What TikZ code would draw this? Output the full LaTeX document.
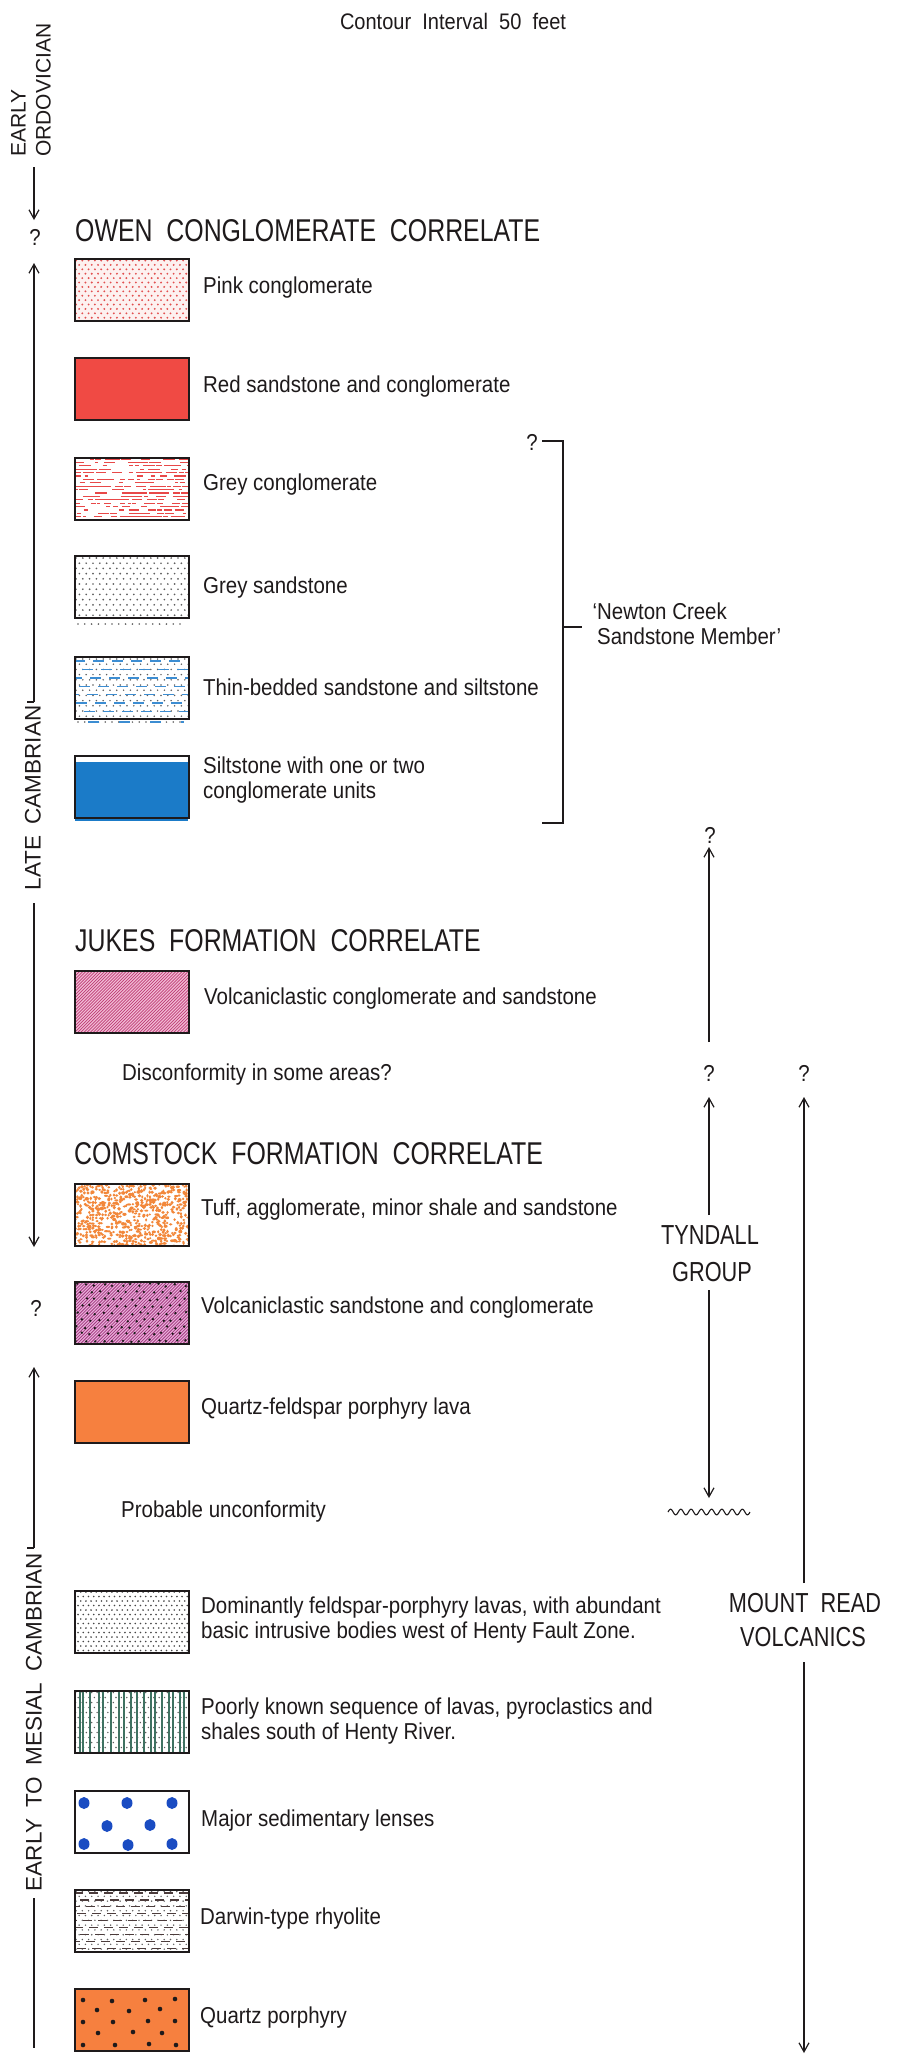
\documentclass[tikz,border=0pt]{standalone}
\usepackage{fontspec}
\setmainfont{Liberation Sans}
\newfontfamily\bodyf{Liberation Sans}[FakeStretch=0.89]
\newfontfamily\headf{Liberation Sans}[FakeStretch=0.79]
\usetikzlibrary{arrows.meta}
\definecolor{ink}{HTML}{1E1A1B}
\definecolor{redfill}{HTML}{F04A44}
\definecolor{orangefill}{HTML}{F6803F}
\definecolor{bluefill}{HTML}{1B7BC8}
\definecolor{pinkbg}{HTML}{FDF1F0}
\definecolor{pinkdot}{HTML}{E25050}
\definecolor{dashred}{HTML}{E84848}
\definecolor{dashblue}{HTML}{3C8DD2}
\definecolor{dotgrey}{HTML}{5E5E5E}
\definecolor{jukespink}{HTML}{F2BCD6}
\definecolor{jukesline}{HTML}{BE3C74}
\definecolor{vsfill}{HTML}{EBB0DC}
\definecolor{vsline}{HTML}{A2397F}
\definecolor{tufforange}{HTML}{F2873A}
\definecolor{lensblue}{HTML}{1A4CC2}
\definecolor{greenline}{HTML}{3F7262}
\definecolor{darkdash}{HTML}{4C3C3C}
\tikzset{
  legbox/.style={draw=ink, line width=1.9pt, minimum width=114pt, minimum height=62pt, anchor=north west, inner sep=0pt},
  body/.style={font=\bodyf\fontsize{23}{25}\selectfont, inner sep=0pt, anchor=west, align=left, text=ink},
  head/.style={font=\headf\fontsize{31.5}{36}\selectfont, inner sep=0pt, anchor=west, text=ink},
  grp/.style={font=\headf\fontsize{27.5}{32}\selectfont, inner sep=0pt, text=ink},
  period/.style={font=\fontsize{22.5}{25}\selectfont, rotate=90, inner sep=0pt, text=ink},
  qm/.style={font=\bodyf\fontsize{23}{25}\selectfont, inner sep=0pt, text=ink},
  conn/.style={draw=ink, line width=1.2pt},
  arr/.style={conn, -{Straight Barb[length=9pt,width=10pt,line width=1.2pt]}},
}
\begin{document}
\begin{tikzpicture}[x=1pt,y=-1pt]
\useasboundingbox[fill=white] (0,0) rectangle (905,2069);
\pgfmathsetseed{11}

% ---------- title ----------
\node[body, anchor=center, font=\bodyf\fontsize{22.5}{25}\selectfont] (title) at (453,21) {Contour\ \ Interval\ \ 50\ \ feet};

% ---------- period labels (left) ----------
\node[period, align=left, font=\fontsize{21}{25}\selectfont, anchor=west] (eo) at (31,157) {EARLY\\ORDOVICIAN};
\node[period] (late) at (33,798) {LATE\hspace{0.5em}CAMBRIAN};
\node[period] (emc) at (34,1722) {EARLY\hspace{0.5em}TO\hspace{0.5em}MESIAL\hspace{0.5em}CAMBRIAN};
\node[qm] (q1) at (35,237) {?};
\node[qm] (q6) at (36,1308) {?};

\coordinate (l1a) at (34,167); \coordinate (l1b) at (34,220);
\coordinate (l2a) at (34,263); \coordinate (l2b) at (34,702);
\coordinate (l3a) at (34,903); \coordinate (l3b) at (34,1247);
\coordinate (l4a) at (34,1367); \coordinate (l4b) at (34,1548);
\coordinate (l5a) at (34,1898); \coordinate (l5b) at (34,2048);
\draw[arr] (l1a) -- (l1b);
\draw[arr] (l2b) -- (l2a);
\draw[conn] (l2b) -- ++(-7,0);
\draw[arr] (l3a) -- (l3b);
\draw[arr] (l4b) -- (l4a);
\draw[conn] (l4b) -- ++(-7,0);
\draw[conn] (l5a) -- (l5b);

% ---------- headings ----------
\node[head] (owen) at (75,231) {OWEN\ \ CONGLOMERATE\ \ CORRELATE};
\node[head] (jukes) at (75,941) {JUKES\ \ FORMATION\ \ CORRELATE};
\node[head] (comstock) at (74,1154) {COMSTOCK\ \ FORMATION\ \ CORRELATE};

% ---------- box 1 : pink conglomerate ----------
\begin{scope}[shift={(74,258)}]
  \fill[pinkbg] (0,0) rectangle (114,62);
  \clip (0,0) rectangle (114,62);
  \foreach \j in {0,...,14}{\foreach \i in {0,...,18}{
    \fill[pinkdot] ({\i*6.3+mod(\j,2)*3.15+2},{\j*4.4+2.5}) circle (1.05pt);}}
\end{scope}
\node[legbox] (b1) at (74,258) {};
\node[body] (t1) at (203,288) {Pink conglomerate};

% ---------- box 2 : red ----------
\node[legbox, fill=redfill] (b2) at (74,357) {};
\node[body] (t2) at (203,387) {Red sandstone and conglomerate};

% ---------- box 3 : grey conglomerate ----------
\begin{scope}[shift={(74,457)}]
  \clip (0,0) rectangle (114,62);
  \foreach \j in {0,...,18}{\foreach \i in {0,...,15}{
    \pgfmathtruncatemacro\okk{rnd<0.62}
    \ifnum\okk=1
      \pgfmathsetmacro\xaa{\i*7.6+rnd*6-3}
      \pgfmathsetmacro\lll{3+rnd*9}
      \draw[dashred, line width=1.3pt] (\xaa,{\j*3.4+2}) -- ++(\lll,0);
    \fi}}
\end{scope}
\node[legbox] (b3) at (74,457) {};
\node[body] (t3) at (203,485) {Grey conglomerate};

% ---------- box 4 : grey sandstone ----------
\begin{scope}[shift={(74,555)}]
  \begin{scope}
    \clip (0,0) rectangle (114,62);
    \foreach \j in {0,...,12}{\foreach \i in {0,...,17}{
      \fill[dotgrey] ({\i*6.8+mod(\j,2)*3.4+2},{\j*5.2+3}) circle (0.95pt);}}
  \end{scope}
  \foreach \i in {0,...,15}{\fill[dotgrey] ({\i*6.8+4},69) circle (0.9pt);}
\end{scope}
\node[legbox] (b4) at (74,555) {};
\node[body] (t4) at (203,588) {Grey sandstone};

% ---------- box 5 : thin-bedded ----------
\begin{scope}[shift={(74,656)}]
  \begin{scope}
    \clip (0,0) rectangle (114,62);
    \foreach \j in {0,...,12}{\foreach \i in {0,...,17}{
      \fill[dotgrey] ({\i*6.8+mod(\j,2)*3.4+2},{\j*5.2+3}) circle (0.85pt);}}
    \foreach \j in {0,...,7}{
      \pgfmathsetmacro\phh{mod(\j*11,19)}
      \draw[dashblue, line width=1.4pt, dash pattern=on 11pt off 8pt, dash phase=\phh pt] (0,{\j*8.4+5}) -- (114,{\j*8.4+5});}
  \end{scope}
  \foreach \i in {0,...,15}{\fill[dotgrey] ({\i*6.8+4},66) circle (0.85pt);}
  \draw[dashblue, line width=1.3pt, dash pattern=on 11pt off 20pt] (14,66) -- (110,66);
\end{scope}
\node[legbox] (b5) at (74,656) {};
\node[body] (t5) at (203,687) {Thin-bedded sandstone and siltstone};

% ---------- box 6 : siltstone ----------
\begin{scope}[shift={(74,755)}]
  \fill[bluefill] (0,6.5) rectangle (114,62);
  \fill[bluefill] (1,62) rectangle (114,66);
\end{scope}
\node[legbox] (b6) at (74,755) {};
\node[body] (t6) at (203,780) {Siltstone with one or two\\conglomerate units};

% ---------- bracket ----------
\node[qm] (q2) at (532,442) {?};
\coordinate (br1) at (542,441); \coordinate (br2) at (563,441);
\coordinate (br3) at (563,823); \coordinate (br4) at (542,823);
\coordinate (brm) at (563,627); \coordinate (brt) at (582,627);
\draw[conn] (br1) -- (br2) -- (br3) -- (br4);
\draw[conn] (brm) -- (brt);
\node[body] (newton) at (597,624) {\llap{‘}Newton Creek\\Sandstone Member’};

% ---------- box 7 : Jukes ----------
\begin{scope}[shift={(74,970)}]
  \fill[jukespink] (0,0) rectangle (114,62);
  \clip (0,0) rectangle (114,62);
  \foreach \k in {-22,...,38}{\draw[jukesline, line width=0.7pt] ({\k*3.1},63) -- ++(66,-66);}
\end{scope}
\node[legbox] (b7) at (74,970) {};
\node[body] (t7) at (204,999) {Volcaniclastic conglomerate and sandstone};
\node[body] (disc) at (122,1075) {Disconformity in some areas?};

% ---------- box 8 : tuff ----------
\begin{scope}[shift={(74,1183)}]
  \clip (0,0) rectangle (114,62);
  \foreach \j in {0,...,21}{\foreach \i in {0,...,38}{
    \pgfmathtruncatemacro\okk{rnd<0.68}
    \ifnum\okk=1
      \pgfmathsetmacro\pxx{\i*3+rnd*2.5}
      \pgfmathsetmacro\pyy{\j*3+rnd*2.5}
      \pgfmathsetmacro\raa{1.1+rnd*1.1}
      \pgfmathsetmacro\rbb{1.0+rnd*1.0}
      \fill[tufforange] (\pxx,\pyy) ellipse [x radius=\raa pt, y radius=\rbb pt];
    \fi}}
\end{scope}
\node[legbox] (b8) at (74,1183) {};
\node[body] (t8) at (201,1210) {Tuff, agglomerate, minor shale and sandstone};

% ---------- box 9 : volcaniclastic sandstone ----------
\begin{scope}[shift={(74,1281)}]
  \fill[vsfill] (0,0) rectangle (114,62);
  \clip (0,0) rectangle (114,62);
  \foreach \k in {-22,...,38}{\draw[vsline, line width=0.8pt] ({\k*3.1},63) -- ++(66,-66);}
  \foreach \j in {0,...,8}{\foreach \i in {0,...,12}{
    \pgfmathsetmacro\pxx{\i*9+mod(\j,2)*4.5+3+rnd*3-1.5}
    \pgfmathsetmacro\pyy{\j*7+4+rnd*3-1.5}
    \fill[ink] (\pxx,\pyy) circle (1.3pt);}}
\end{scope}
\node[legbox] (b9) at (74,1281) {};
\node[body] (t9) at (201,1308) {Volcaniclastic sandstone and conglomerate};

% ---------- box 10 : quartz-feldspar porphyry lava ----------
\node[legbox, fill=orangefill] (b10) at (74,1380) {};
\node[body] (t10) at (201,1409) {Quartz-feldspar porphyry lava};
\node[body] (unconf) at (121,1512) {Probable unconformity};

% ---------- box 11 : dominantly feldspar-porphyry ----------
\begin{scope}[shift={(74,1590)}]
  \clip (0,0) rectangle (114,62);
  \foreach \j in {0,...,14}{\foreach \i in {0,...,23}{
    \fill[black!72] ({\i*5.2+mod(\j,2)*2.6+1.5},{\j*4.5+2}) circle (0.9pt);}}
\end{scope}
\node[legbox] (b11) at (74,1590) {};
\node[body] (t11) at (201,1620) {Dominantly feldspar-porphyry lavas, with abundant\\basic intrusive bodies west of Henty Fault Zone.};

% ---------- box 12 : poorly known ----------
\begin{scope}[shift={(74,1690)}]
  \clip (0,0) rectangle (114,62);
  \foreach \j in {0,...,12}{\foreach \i in {0,...,21}{
    \fill[dotgrey] ({\i*5.4+mod(\j,2)*2.7+1.5},{\j*5+2.5}) circle (0.8pt);}}
  \foreach \xx in {6,9,16,25,29,37,45,50,57,63,70,77,81,88,95,99,106,110}{
    \draw[greenline, line width=1.2pt] (\xx,0) -- (\xx,62);}
\end{scope}
\node[legbox] (b12) at (74,1690) {};
\node[body] (t12) at (201,1721) {Poorly known sequence of lavas, pyroclastics and\\shales south of Henty River.};

% ---------- box 13 : major sedimentary lenses ----------
\begin{scope}[shift={(74,1790)}]
  \foreach \pxx/\pyy in {10/13,53/13,98/13,33/36,76/35,10/54,54/55,98/54}{
    \fill[lensblue] (\pxx,\pyy) ellipse [x radius=5.5pt, y radius=6pt];}
\end{scope}
\node[legbox] (b13) at (74,1790) {};
\node[body] (t13) at (201,1821) {Major sedimentary lenses};

% ---------- box 14 : Darwin-type rhyolite ----------
\begin{scope}[shift={(74,1889)}]
  \clip (0,0) rectangle (114,62);
  \foreach \j in {0,...,13}{\foreach \i in {0,...,18}{
    \fill[dotgrey] ({\i*6.3+mod(\j,2)*3.15+2},{\j*4.8+2.5}) circle (0.8pt);}}
  \foreach \j in {0,...,8}{
    \pgfmathsetmacro\phh{mod(\j*9,15)}
    \draw[darkdash, line width=1.2pt, dash pattern=on 9pt off 6pt, dash phase=\phh pt] (0,{\j*6.9+4}) -- (114,{\j*6.9+4});}
\end{scope}
\node[legbox] (b14) at (74,1889) {};
\node[body] (t14) at (200,1919) {Darwin-type rhyolite};

% ---------- box 15 : quartz porphyry ----------
\begin{scope}[shift={(74,1988)}]
  \fill[orangefill] (0,0) rectangle (114,62);
  \foreach \pxx/\pyy in {9/12,38/13,71/12,101/11,23/22,55/23,86/21,9/34,39/34,74/33,101/33,24/45,59/44,88/45,9/57,41/57,75/56,102/57}{
    \fill[ink] (\pxx,\pyy) circle (2.3pt);}
\end{scope}
\node[legbox] (b15) at (74,1988) {};
\node[body] (t15) at (200,2018) {Quartz porphyry};

% ---------- Tyndall Group column ----------
\node[qm] (q3) at (710,835) {?};
\node[qm] (q4) at (709,1073) {?};
\node[grp] (tyndall) at (710,1235) {TYNDALL};
\node[grp] (group) at (712,1272) {GROUP};
\coordinate (ta1) at (709,847); \coordinate (ta2) at (709,1042);
\coordinate (tb1) at (709,1097); \coordinate (tb2) at (709,1215);
\coordinate (tc1) at (709,1290); \coordinate (tc2) at (709,1498);
\draw[arr] (ta2) -- (ta1);
\draw[arr] (tb2) -- (tb1);
\draw[arr] (tc1) -- (tc2);
\draw[ink, line width=1.1pt] plot[domain=0:82, samples=160, smooth] ({668+\x},{1512-2.8*sin(35.12*\x)});

% ---------- Mount Read Volcanics column ----------
\node[qm] (q5) at (804,1073) {?};
\node[grp] (mount) at (805,1603) {MOUNT\ \ READ};
\node[grp] (volc) at (803,1637) {VOLCANICS};
\coordinate (ma1) at (804,1097); \coordinate (ma2) at (804,1583);
\coordinate (mb1) at (804,1662); \coordinate (mb2) at (804,2053);
\draw[arr] (ma2) -- (ma1);
\draw[arr] (mb1) -- (mb2);
\end{tikzpicture}
\end{document}
